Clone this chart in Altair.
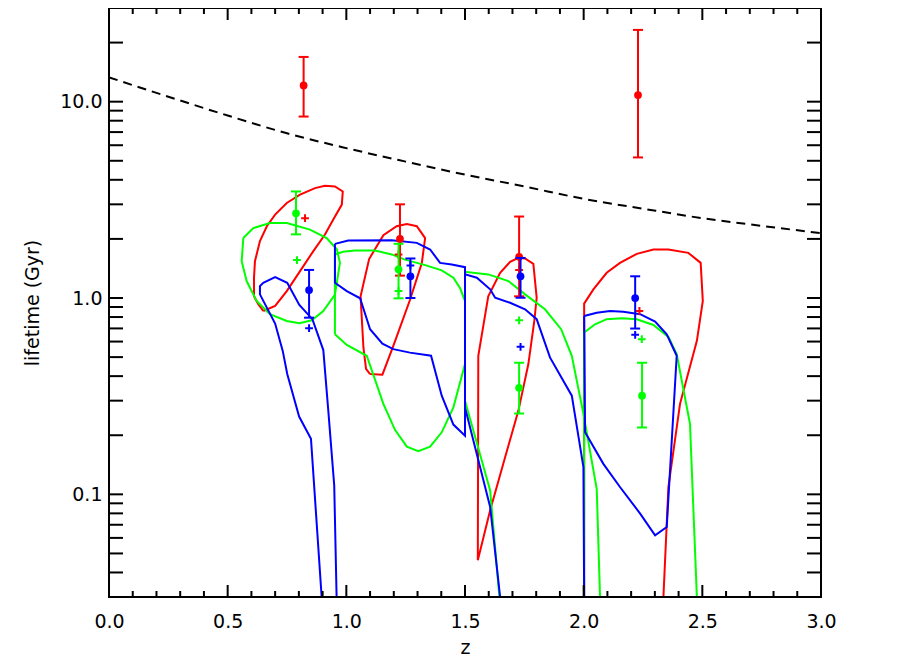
import altair as alt
import pandas as pd

# ---------------- data (z, lifetime in Gyr) ----------------
RED_1 = [(0.650,0.859),(0.700,0.911),(0.749,1.085),(0.805,1.371),(0.861,1.733),(0.910,2.105),(0.945,2.51),(0.981,2.99),(0.985,3.49),(0.952,3.70),(0.910,3.73),(0.868,3.63),(0.805,3.36),(0.749,3.05),(0.700,2.66),(0.665,2.32),(0.636,1.95),(0.615,1.54),(0.611,1.27),(0.611,1.02),(0.629,0.929),(0.650,0.859)]
RED_2 = [(1.100,0.41),(1.152,0.407),(1.198,0.571),(1.268,0.977),(1.318,1.506),(1.332,2.02),(1.297,2.32),(1.255,2.38),(1.212,2.32),(1.156,2.09),(1.096,1.58),(1.060,1.02),(1.072,0.56),(1.083,0.436),(1.100,0.41)]
RED_3 = [(1.554,0.0462),(1.556,0.508),(1.598,1.02),(1.648,1.344),(1.690,1.528),(1.725,1.602),(1.753,1.59),(1.788,1.493),(1.802,1.003),(1.792,0.764),(1.767,0.461),(1.725,0.267),(1.669,0.1546),(1.606,0.083),(1.554,0.0462)]
RED_4 = [(2.002,0.03),(2.002,0.936),(2.041,1.107),(2.097,1.344),(2.153,1.51),(2.224,1.679),(2.294,1.766),(2.357,1.766),(2.441,1.698),(2.493,1.51),(2.502,0.966),(2.477,0.605),(2.406,0.289),(2.357,0.109),(2.336,0.03)]

GREEN_1 = [(0.566,2.02),(0.608,2.27),(0.678,2.41),(0.749,2.41),(0.847,2.23),(0.917,2.02),(0.960,1.77),(0.973,1.51),(0.952,1.04),(0.903,0.859),(0.854,0.77),(0.802,0.744),(0.749,0.764),(0.678,0.827),(0.622,0.966),(0.580,1.22),(0.559,1.54),(0.566,2.02)]
GREEN_2 = [(0.952,0.654),(0.952,1.667),(0.986,1.72),(1.037,1.746),(1.121,1.746),(1.191,1.667),(1.247,1.568),(1.332,1.471),(1.402,1.382),(1.451,1.268),(1.479,1.124),(1.500,0.966),(1.500,0.461),(1.451,0.277),(1.402,0.207),(1.353,0.175),(1.303,0.166),(1.255,0.175),(1.205,0.213),(1.156,0.289),(1.086,0.508),(1.002,0.577),(0.952,0.654)]
GREEN_3 = [(1.645,0.03),(1.606,0.1047),(1.500,0.300),(1.500,1.36),(1.598,1.319),(1.683,1.22),(1.753,1.044),(1.837,0.876),(1.905,0.694),(1.950,0.508),(1.999,0.257),(2.055,0.1068),(2.069,0.03)]
GREEN_4 = [(2.002,0.03),(2.002,0.667),(2.048,0.735),(2.097,0.78),(2.161,0.789),(2.224,0.78),(2.294,0.729),(2.357,0.634),(2.392,0.518),(2.448,0.2285),(2.477,0.03)]

BLUE_1 = [(0.896,0.03),(0.851,0.192),(0.801,0.249),(0.751,0.410),(0.732,0.538),(0.700,0.741),(0.636,1.044),(0.636,1.15),(0.650,1.196),(0.700,1.278),(0.751,1.196),(0.802,0.921),(0.857,0.78),(0.903,0.543),(0.924,0.267),(0.949,0.111),(0.959,0.03)]
BLUE_2 = [(0.952,1.887),(1.008,1.963),(1.191,1.968),(1.297,1.909),(1.353,1.766),(1.395,1.51),(1.444,1.483),(1.500,1.436),(1.500,0.199),(1.451,0.2266),(1.402,0.318),(1.357,0.508),(1.268,0.527),(1.198,0.549),(1.152,0.586),(1.100,0.693),(1.058,0.997),(1.002,1.085),(0.952,1.196),(0.952,1.887)]
BLUE_3 = [(1.648,0.03),(1.606,0.0862),(1.500,0.277),(1.500,1.319),(1.550,1.268),(1.606,1.107),(1.627,1.003),(1.690,0.946),(1.753,0.876),(1.802,0.78),(1.858,0.498),(1.950,0.318),(1.999,0.1377),(2.002,0.03)]
BLUE_4 = [(2.002,0.81),(2.055,0.842),(2.111,0.859),(2.167,0.852),(2.238,0.827),(2.301,0.758),(2.350,0.654),(2.392,0.508),(2.350,0.0682),(2.301,0.0619),(2.238,0.0798),(2.153,0.109),(2.083,0.143),(2.006,0.207),(2.002,0.81)]

AGE_Z = [0.0, 0.25, 0.5, 0.75, 1.0, 1.25, 1.5, 1.75, 2.0, 2.25, 2.5, 2.75, 3.0]
AGE_T = [13.3, 10.6, 8.5, 6.9, 5.8, 4.95, 4.25, 3.7, 3.2, 2.85, 2.55, 2.33, 2.14]

RED_Z = [0.82, 1.226, 1.728, 2.229]
RED_T = [12.1, 2.0, 1.62, 10.8]
RED_LO = [8.4, 1.30, 1.02, 5.2]
RED_HI = [16.9, 3.0, 2.6, 23.2]
RED_PLUS_Z = [0.826, 1.22, 1.728, 2.235]
RED_PLUS_T = [2.55, 1.667, 1.39, 0.859]

GREEN_Z = [0.788, 1.22, 1.728, 2.246]
GREEN_T = [2.7, 1.40, 0.349, 0.318]
GREEN_LO = [2.11, 0.996, 0.258, 0.219]
GREEN_HI = [3.49, 1.888, 0.468, 0.468]
GREEN_PLUS_Z = [0.792, 1.22, 1.728, 2.245]
GREEN_PLUS_T = [1.56, 1.085, 0.77, 0.617]

BLUE_Z = [0.843, 1.27, 1.734, 2.217]
BLUE_T = [1.098, 1.29, 1.29, 1.0]
BLUE_LO = [0.794, 1.0, 1.003, 0.699]
BLUE_HI = [1.39, 1.59, 1.6, 1.29]
BLUE_PLUS_Z = [0.843, 1.27, 1.734, 2.217]
BLUE_PLUS_T = [0.702, 1.465, 0.564, 0.649]

Y_TICKS = [0.03, 0.04, 0.05, 0.06, 0.07, 0.08, 0.09, 0.1, 0.2, 0.3, 0.4, 0.5, 0.6, 0.7, 0.8, 0.9,
           1, 2, 3, 4, 5, 6, 7, 8, 9, 10, 20, 30]
Y_LABELS = [0.1, 1, 10]
X_MAJOR = [0.0, 0.5, 1.0, 1.5, 2.0, 2.5, 3.0]
X_MINOR = [0.1, 0.2, 0.3, 0.4, 0.6, 0.7, 0.8, 0.9, 1.1, 1.2, 1.3, 1.4, 1.6, 1.7, 1.8, 1.9,
           2.1, 2.2, 2.3, 2.4, 2.6, 2.7, 2.8, 2.9]

# ---------------- layout ----------------
W, H = 712, 589
FONT = "DejaVu Sans"
RED, GREEN, BLUE = "#ff0000", "#00ff00", "#0000ff"

xs = alt.Scale(domain=[0, 3], nice=False, zero=False)
ys = alt.Scale(type="log", domain=[0.03, 30], nice=False)

x_axis = alt.Axis(values=X_MAJOR, format=".1f", ticks=False, tickSize=0, domain=False, grid=False,
                  labelFlush=False, labelOverlap=False,
                  labelFontSize=19, labelPadding=15, labelFont=FONT, labelColor="black",
                  titleFontSize=19, titleFont=FONT, titleFontWeight="normal", titleColor="black",
                  titleY=56, titleBaseline="alphabetic")
y_axis = alt.Axis(values=Y_LABELS, format=".1f", ticks=False, tickSize=0, domain=False, grid=False,
                  labelFlush=False, labelOverlap=False,
                  labelFontSize=19, labelPadding=7, labelFont=FONT, labelColor="black",
                  titleFontSize=19, titleFont=FONT, titleFontWeight="normal", titleColor="black",
                  titleX=-77, titleY=H / 2, titleAngle=270, titleAlign="center", titleBaseline="middle")


def X(field="z"):
    return alt.X(f"{field}:Q", scale=xs, axis=x_axis, title="z")


def Y(field="t"):
    return alt.Y(f"{field}:Q", scale=ys, axis=y_axis, title="lifetime  (Gyr)")


def contour_df(curves):
    rows = []
    for gi, c in enumerate(curves):
        for oi, (z, t) in enumerate(c):
            rows.append({"z": z, "t": t, "g": gi, "o": oi})
    return pd.DataFrame(rows)


def contour_layer(curves, color):
    return alt.Chart(contour_df(curves)).mark_line(color=color, strokeWidth=2, clip=True).encode(
        x=X(), y=Y(), detail="g:N", order="o:Q")


layers = []
layers.append(contour_layer([RED_1, RED_2, RED_3, RED_4], RED))
layers.append(contour_layer([GREEN_1, GREEN_2, GREEN_3, GREEN_4], GREEN))
layers.append(contour_layer([BLUE_1, BLUE_2, BLUE_3, BLUE_4], BLUE))

age_df = pd.DataFrame({"z": AGE_Z, "t": AGE_T})
layers.append(alt.Chart(age_df).mark_line(color="black", strokeWidth=2, strokeDash=[9, 6],
                                          interpolate="monotone", clip=True).encode(x=X(), y=Y()))

PLUS = "M-1,0L1,0M0,-1L0,1"


def points(zv, tv, lo, hi, pz, pt, color):
    df = pd.DataFrame({"z": zv, "t": tv, "lo": lo, "hi": hi})
    pdf = pd.DataFrame({"z": pz, "t": pt})
    out = []
    out.append(alt.Chart(pdf).mark_point(shape=PLUS, size=60, filled=False, strokeWidth=2,
                                         color=color, opacity=1).encode(x=X(), y=Y()))
    out.append(alt.Chart(df).mark_rule(color=color, strokeWidth=2).encode(
        x=X(), y=Y("lo"), y2=alt.Y2("hi:Q")))
    out.append(alt.Chart(df).mark_tick(color=color, orient="horizontal", size=10, thickness=2,
                                       opacity=1).encode(x=X(), y=Y("lo")))
    out.append(alt.Chart(df).mark_tick(color=color, orient="horizontal", size=10, thickness=2,
                                       opacity=1).encode(x=X(), y=Y("hi")))
    out.append(alt.Chart(df).mark_circle(color=color, size=60, opacity=1).encode(x=X(), y=Y()))
    return out


layers += points(RED_Z, RED_T, RED_LO, RED_HI, RED_PLUS_Z, RED_PLUS_T, RED)
layers += points(GREEN_Z, GREEN_T, GREEN_LO, GREEN_HI, GREEN_PLUS_Z, GREEN_PLUS_T, GREEN)
layers += points(BLUE_Z, BLUE_T, BLUE_LO, BLUE_HI, BLUE_PLUS_Z, BLUE_PLUS_T, BLUE)

# inward ticks on all four sides
ytick_df = pd.DataFrame({"t": Y_TICKS})
layers.append(alt.Chart(ytick_df).mark_rule(color="black", strokeWidth=2).encode(
    y=Y(), x=alt.value(0), x2=alt.value(14)))
layers.append(alt.Chart(ytick_df).mark_rule(color="black", strokeWidth=2).encode(
    y=Y(), x=alt.value(W - 14), x2=alt.value(W)))
xmaj_df = pd.DataFrame({"z": X_MAJOR})
xmin_df = pd.DataFrame({"z": X_MINOR})
layers.append(alt.Chart(xmaj_df).mark_rule(color="black", strokeWidth=2).encode(
    x=X(), y=alt.value(H), y2=alt.value(H - 12)))
layers.append(alt.Chart(xmaj_df).mark_rule(color="black", strokeWidth=2).encode(
    x=X(), y=alt.value(0), y2=alt.value(12)))
layers.append(alt.Chart(xmin_df).mark_rule(color="black", strokeWidth=2).encode(
    x=X(), y=alt.value(H), y2=alt.value(H - 6)))
layers.append(alt.Chart(xmin_df).mark_rule(color="black", strokeWidth=2).encode(
    x=X(), y=alt.value(0), y2=alt.value(6)))

# plot frame
frame_df = pd.DataFrame({"k": [0]})
for enc in (dict(x=alt.value(0), y=alt.value(0), y2=alt.value(H)),
            dict(x=alt.value(W), y=alt.value(0), y2=alt.value(H)),
            dict(y=alt.value(0), x=alt.value(0), x2=alt.value(W)),
            dict(y=alt.value(H), x=alt.value(0), x2=alt.value(W))):
    layers.append(alt.Chart(frame_df).mark_rule(color="black", strokeWidth=2, strokeCap="square").encode(**enc))

chart = alt.layer(*layers).properties(
    width=W, height=H,
    autosize=alt.AutoSizeParams(type="none"),
    padding={"left": 101, "top": 0, "right": 73, "bottom": 59},
).configure_view(stroke=None).configure(background="white")

chart.save("out.html", embed_options={"renderer": "svg", "actions": False})
